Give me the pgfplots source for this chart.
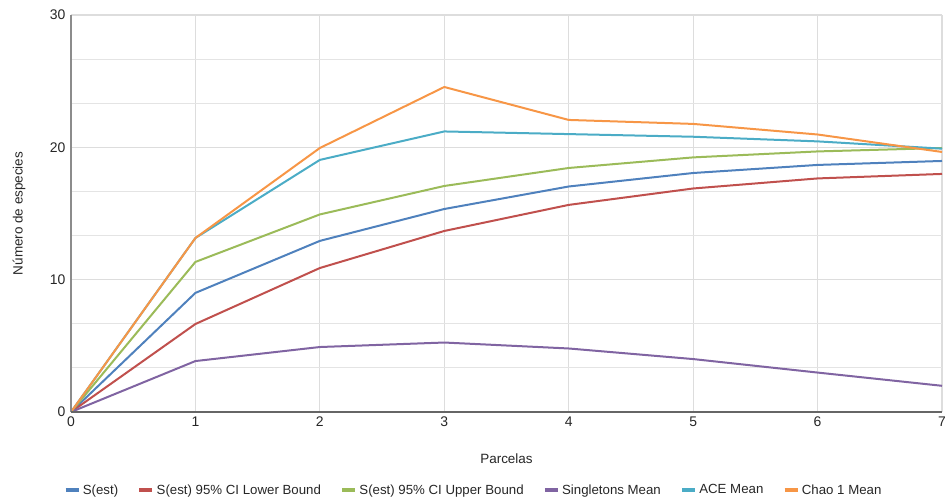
\documentclass[border=0pt]{standalone}
\usepackage{pgfplots}
\pgfplotsset{compat=1.18}
\usepackage{fontspec}
\setmainfont{Liberation Sans}
\definecolor{cblue}{HTML}{4F81BD}
\definecolor{cred}{HTML}{C0504D}
\definecolor{cgreen}{HTML}{9BBB59}
\definecolor{cpurple}{HTML}{8064A2}
\definecolor{ccyan}{HTML}{4BACC6}
\definecolor{corange}{HTML}{F79646}
\definecolor{gridc}{HTML}{DDDDDD}
\begin{document}
\begin{tikzpicture}
\begin{axis}[
  name=ax,
  scale only axis,
  width=871bp, height=397bp,
  xmin=0, xmax=7, ymin=0, ymax=30,
  xtick={0,1,...,7},
  ytick={0,10,20,30},
  minor y tick num=2,
  grid=both,
  major grid style={draw=gridc, line width=1.1pt},
  minor grid style={draw=gridc!80, line width=0.9pt},
  axis line style={draw=none},
  tick style={draw=none},
  every tick label/.style={font=\fontsize{14}{16}\selectfont, text=black!85},
  /pgf/number format/assume math mode=true,
  xticklabel style={yshift=-1bp},
  yticklabel style={xshift=-2bp},
  xlabel={Parcelas},
  ylabel={Número de especies},
  label style={font=\fontsize{13.5}{15}\selectfont, text=black!85},
  xlabel style={at={(axis description cs:0.5,0)}, anchor=north, yshift=-38bp},
  ylabel style={at={(axis description cs:0,0.5)}, anchor=south, xshift=0bp, yshift=42bp},
  legend columns=6,
  legend style={at={(axis description cs:0.462,0)}, anchor=center, yshift=-78bp,
    draw=none, fill=none, font=\fontsize{13.3}{15}\selectfont, text=black!85,
    /tikz/every even column/.append style={column sep=17bp}},
  legend image code/.code={\draw[line width=4.5bp] (0bp,0bp) -- (13bp,0bp);},
  every axis plot/.append style={line width=2bp, line join=round},
]
\addplot[cblue] coordinates {(0,0) (1,9.0) (2,12.93) (3,15.34) (4,17.04) (5,18.06) (6,18.67) (7,18.97)};
\addlegendentry{S(est)}
\addplot[cred] coordinates {(0,0) (1,6.65) (2,10.88) (3,13.68) (4,15.65) (5,16.89) (6,17.65) (7,17.99)};
\addlegendentry{S(est) 95\% CI Lower Bound}
\addplot[cgreen] coordinates {(0,0) (1,11.34) (2,14.93) (3,17.08) (4,18.44) (5,19.24) (6,19.69) (7,19.95)};
\addlegendentry{S(est) 95\% CI Upper Bound}
\addplot[cpurple] coordinates {(0,0) (1,3.85) (2,4.91) (3,5.25) (4,4.8) (5,4.0) (6,2.98) (7,1.98)};
\addlegendentry{Singletons Mean}
\addplot[ccyan] coordinates {(0,0) (1,13.15) (2,19.05) (3,21.2) (4,21.0) (5,20.8) (6,20.45) (7,19.9)};
\addlegendentry{ACE Mean}
\addplot[corange] coordinates {(0,0) (1,13.15) (2,19.95) (3,24.56) (4,22.07) (5,21.77) (6,20.97) (7,19.65)};
\addlegendentry{Chao 1 Mean}
\end{axis}
\draw[black!45, line width=1.2pt] (ax.south west) -- (ax.north west);
\draw[black!60, line width=1.2pt] (ax.south west) -- (ax.south east);
\pgfresetboundingbox
\path[use as bounding box] ([xshift=-71bp,yshift=-87bp]ax.south west) rectangle ([xshift=3bp,yshift=15bp]ax.north east);
\end{tikzpicture}
\end{document}
